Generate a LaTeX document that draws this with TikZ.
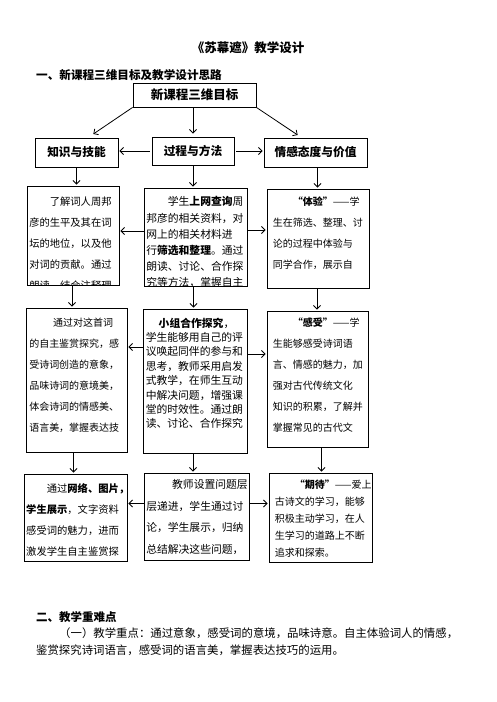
\documentclass[tikz,border=0pt]{standalone}
\usepackage{fontspec}
\setmainfont{Noto Sans CJK SC}
\usetikzlibrary{arrows.meta}

\newcommand{\bodyfont}[2]{\fontsize{#1}{#2}\selectfont}
% text of a box, cut off at the box border
\newcommand{\boxtext}[6]{%
  \begin{scope}
    \clip (#1.south west) rectangle (#1.north east);
    \node[body, font=\bodyfont{#4}{#5}] (#1t) at ([shift={(#2pt,-#3pt)}]#1.north west) {#6};
  \end{scope}}

\tikzset{
  headbox/.style={draw, line width=0.9pt, inner sep=0pt, font=\bfseries\bodyfont{11.7}{14}},
  textbox/.style={draw, line width=0.9pt, inner sep=0pt},
  body/.style={inner sep=0pt, align=left, anchor=north west},
  arr/.style={-{Straight Barb[length=3.5pt,width=7pt]}, line width=0.8pt, shorten >=1pt},
}

\begin{document}
\begin{tikzpicture}[x=1pt,y=-1pt]
    \fill[white] (0,0) rectangle (496,702);
    \useasboundingbox (0,0) rectangle (496,702);

    \node[font=\bfseries\bodyfont{12.5}{15}] (title) at (248,48) {《苏幕遮》教学设计};
    \node[font=\bfseries\bodyfont{11.6}{14}, anchor=west, inner sep=0pt] (sec1) at (36,75) {一、新课程三维目标及教学设计思路};

    % goals
    \node[headbox, font=\bfseries\bodyfont{12.5}{15}, minimum width=123pt, minimum height=24pt] (goal) at (194.5,95) {新课程三维目标};
    \node[headbox, minimum width=83pt, minimum height=29pt] (skill) at (76.5,152.5) {知识与技能};
    \node[headbox, minimum width=82pt, minimum height=28pt] (method) at (193,151) {过程与方法};
    \node[headbox, minimum width=103pt, minimum height=29pt] (value) at (315.5,152.5) {情感态度与价值};

    % boxes
    \node[textbox, minimum width=92pt, minimum height=99pt] (skill2) at (73,235.5) {};
    \node[textbox, minimum width=103pt, minimum height=98pt] (method2) at (195.5,237) {};
    \node[textbox, minimum width=102pt, minimum height=99pt] (value2) at (318,238.5) {};
    \node[textbox, minimum width=101pt, minimum height=144pt] (skill3) at (76.5,380) {};
    \node[textbox, minimum width=104pt, minimum height=144pt] (method3) at (195,381) {};
    \node[textbox, minimum width=101pt, minimum height=136pt] (value3) at (317.5,379) {};
    \node[textbox, minimum width=103pt, minimum height=87pt] (skill4) at (75.5,517.5) {};
    \node[textbox, minimum width=105pt, minimum height=87pt] (method4) at (196.5,516.5) {};
    \node[textbox, minimum width=103pt, minimum height=89pt] (value4) at (320.5,517.5) {};

    \boxtext{skill2}{2.5}{11}{10.3}{21}{\hspace*{2em}了解词人周邦\\彦的生平及其在词\\坛的地位，以及他\\对词的贡献。通过\\朗读、结合注释理}
    \boxtext{method2}{2.5}{9}{10.8}{16.2}{\hspace*{2em}学生\textbf{上网查询}周\\邦彦的相关资料，对\\网上的相关材料进\\行\textbf{筛选和整理}。通过\\朗读、讨论、合作探\\究等方法，掌握自主}
    \boxtext{value2}{6}{8}{10}{21}{\hspace*{2em}\textbf{“体验”}——学\\生在筛选、整理、讨\\论的过程中体验与\\同学合作，展示自}
    \boxtext{skill3}{3.5}{10}{10}{21}{\hspace*{2.4em}通过对这首词\\的自主鉴赏探究，感\\受诗词创造的意象，\\品味诗词的意境美，\\体会诗词的情感美、\\语言美，掌握表达技}
    \boxtext{method3}{3}{9}{10.8}{14.4}{\hspace*{1.2em}\textbf{小组合作探究}，\\学生能够用自己的评\\议唤起同伴的参与和\\思考，教师采用启发\\式教学，在师生互动\\中解决问题，增强课\\堂的时效性。通过朗\\读、讨论、合作探究}
    \boxtext{value3}{6}{7}{10}{21}{\hspace*{2em}\textbf{“感受”}——学\\生能够感受诗词语\\言、情感的魅力，加\\强对古代传统文化\\知识的积累，了解并\\掌握常见的古代文}
    \boxtext{skill4}{2.5}{10}{10.3}{21}{\hspace*{2em}通过\textbf{网络、图片，}\\\textbf{学生展示}，文字资料\\感受词的魅力，进而\\激发学生自主鉴赏探}
    \boxtext{method4}{2.5}{7}{10.8}{21.5}{\hspace*{2.4em}教师设置问题层\\层递进，学生通过讨\\论，学生展示，归纳\\总结解决这些问题，}
    \boxtext{value4}{6}{7}{10}{17}{\hspace*{2em}\textbf{“期待”}——爱上\\古诗文的学习，能够\\积极主动学习，在人\\生学习的道路上不断\\追求和探索。}

    % arrows from the goals
    \draw[arr] (goal.south west) -- ([xshift=16pt,yshift=3pt]skill.north);
    \draw[arr] (goal.south -| method.north) -- ([yshift=2pt]method.north);
    \draw[arr] (goal.south east) -- ([xshift=-17pt,yshift=2pt]value.north);
    \draw[arr] ([xshift=-2pt]method.west) -- (method.west -| skill.east);
    \draw[arr] ([xshift=2pt]method.east) -- (method.east -| value.west);

    % down the columns
    \draw[arr] (skill.south) -- (skill.south |- skill2.north);
    \draw[arr] (method.south) -- (method.south |- method2.north);
    \draw[arr] ([xshift=2pt]value.south) -- ([xshift=2pt]value.south |- value2.north);
    \draw[arr] ([xshift=-1pt]skill2.south) -- ([xshift=-1pt]skill2.south |- skill3.north);
    \draw[arr] ([xshift=-2pt]method2.south) -- ([xshift=-2pt]method2.south |- method3.north);
    \draw[arr] ([xshift=-1pt]value2.south) -- ([xshift=-1pt]value2.south |- value3.north);
    \draw[arr] ([xshift=-3pt]skill3.south) -- ([xshift=-3pt]skill3.south |- skill4.north);
    \draw[arr] ([xshift=-2pt]method3.south) -- ([xshift=-2pt]method3.south |- method4.north);
    \draw[arr] ([xshift=4pt]value3.south) -- ([xshift=4pt]value3.south |- value4.north);

    % across the rows
    \draw[arr] ([yshift=6pt]method2.west) -- ([yshift=6pt]method2.west -| skill2.east);
    \draw[arr] ([yshift=7pt]method2.east) -- ([yshift=7pt]method2.east -| value2.west);
    \draw[arr] ([yshift=34pt]method3.west) -- ([yshift=34pt]method3.west -| skill3.east);
    \draw[arr] ([yshift=27pt]method3.east) -- ([yshift=27pt]method3.east -| value3.west);
    \draw[arr] ([yshift=13pt]method4.west) -- ([yshift=13pt]method4.west -| skill4.east);
    \draw[arr] ([yshift=13pt]method4.east) -- ([yshift=13pt]method4.east -| value4.west);

    % second part
    \node[font=\bfseries\bodyfont{11.5}{14}, anchor=west, inner sep=0pt] (sec2) at (36,617) {二、教学重难点};
    \node[font=\bodyfont{11.4}{14}, anchor=west, inner sep=0pt] (para1) at (59,633) {（一）教学重点：通过意象，感受词的意境，品味诗意。自主体验词人的情感，};
    \node[font=\bodyfont{11.4}{14}, anchor=west, inner sep=0pt] (para2) at (36,650) {鉴赏探究诗词语言，感受词的语言美，掌握表达技巧的运用。};
\end{tikzpicture}
\end{document}
